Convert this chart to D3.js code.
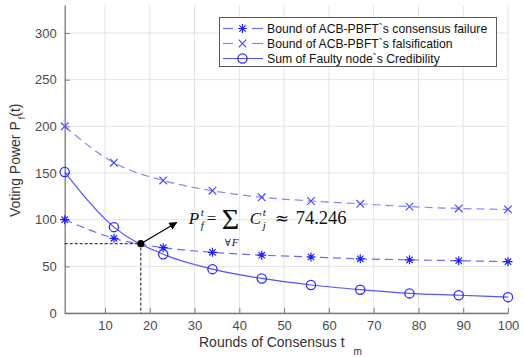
<!DOCTYPE html>
<html><head><meta charset="utf-8">
<script src="https://cdn.jsdelivr.net/npm/d3@7"></script>
<style>body{margin:0;background:#fff}svg{display:block}text{font-family:"Liberation Sans",Arial,sans-serif}</style>
</head><body><svg id="c" width="524" height="357"></svg>
<script>
const rounds = [1, 12, 23, 34, 45, 56, 67, 78, 89, 100];
const failureBound = [100, 80, 70, 65, 62, 60, 58, 57, 56, 55];
const falsifBound = [200, 161, 142, 131, 124, 120, 117, 114, 112, 111];
const faultyCred = [151, 92, 63, 47, 37, 30, 25, 21, 19, 17];
const xTicks = [10, 20, 30, 40, 50, 60, 70, 80, 90, 100];
const yTicks = [0, 50, 100, 150, 200, 250, 300];
const seriesNames = ["Bound of ACB-PBFT`s consensus failure", "Bound of ACB-PBFT`s falsification", "Sum of Faulty node`s Credibility"];
const markPoint = [18, 74.246];
const arrowEnd = [26, 97];

const svg = d3.select("#c");
const x = d3.scaleLinear().domain([1, 100]).range([64.7, 508]);
const y = d3.scaleLinear().domain([0, 330]).range([313, 5]);

// grid
const g = svg.append("g");
g.selectAll(".vg").data(xTicks).join("line").attr("x1", d => x(d)).attr("x2", d => x(d))
  .attr("y1", y(330)).attr("y2", y(0)).attr("stroke", "#e3e3e3").attr("stroke-width", 1);
g.selectAll(".hg").data(yTicks).join("line").attr("x1", x(1)).attr("x2", x(100))
  .attr("y1", d => y(d)).attr("y2", d => y(d)).attr("stroke", "#e3e3e3").attr("stroke-width", 1);

// axes
const ax = svg.append("g").attr("transform", `translate(0,${y(0)})`)
  .call(d3.axisBottom(x).tickValues(xTicks).tickSizeInner(-5).tickSizeOuter(0).tickPadding(8));
const ay = svg.append("g").attr("transform", `translate(${x(1)},0)`)
  .call(d3.axisLeft(y).tickValues(yTicks).tickSizeInner(-5).tickSizeOuter(0).tickPadding(8));
[ax, ay].forEach(a => {
  a.select(".domain").attr("stroke", "#7a7a7a").attr("stroke-width", 1.3);
  a.selectAll(".tick line").attr("stroke", "#7a7a7a");
  a.selectAll(".tick text").attr("fill", "#4a4a4a").style("font-size", "13px").style("font-family", "Liberation Sans, Arial, sans-serif");
});

// series
const data = (vals) => rounds.map((r, i) => [r, vals[i]]);
const line = d3.line().x(d => x(d[0])).y(d => y(d[1])).curve(d3.curveMonotoneX);

const series = [
  {vals: failureBound, line: "#6b6bff", mark: "#1f1fff", dash: "8,5", sym: "ast"},
  {vals: falsifBound, line: "#8585ff", mark: "#4b4bff", dash: "8,5", sym: "x"},
  {vals: faultyCred, line: "#5252ff", mark: "#2d2dff", dash: null, sym: "o"}
];

function symPath(t, s) {
  if (t === "ast") { const a = s * 0.707; return `M0,${-s}V${s}M${-s},0H${s}M${-a},${-a}L${a},${a}M${-a},${a}L${a},${-a}`; }
  if (t === "x") return `M${-s},${-s}L${s},${s}M${-s},${s}L${s},${-s}`;
  return null;
}
function drawMarker(sel, t, color, cx, cy) {
  if (t === "o") sel.append("circle").attr("cx", cx).attr("cy", cy).attr("r", 4.6).attr("fill", "none").attr("stroke", color).attr("stroke-width", 1.3);
  else sel.append("path").attr("d", symPath(t, t === "ast" ? 4.5 : 3.8)).attr("transform", `translate(${cx},${cy})`).attr("fill", "none").attr("stroke", color).attr("stroke-width", 1.2);
}

series.forEach(s => {
  svg.append("path").datum(data(s.vals)).attr("d", line).attr("fill", "none").attr("stroke", s.line)
    .attr("stroke-width", 1.2).attr("stroke-dasharray", s.dash);
  const mg = svg.append("g");
  data(s.vals).forEach(d => drawMarker(mg, s.sym, s.mark, x(d[0]), y(d[1])));
});

// annotation
const px = x(markPoint[0]), py = y(markPoint[1]);
svg.append("path").attr("d", `M${x(1)},${py}H${px}V${y(0)}`).attr("fill", "none").attr("stroke", "#111").attr("stroke-width", 1).attr("stroke-dasharray", "3,2");
svg.append("defs").append("marker").attr("id", "ah").attr("viewBox", "0 0 10 10").attr("refX", 9).attr("refY", 5)
  .attr("markerWidth", 10).attr("markerHeight", 8).attr("markerUnits", "userSpaceOnUse").attr("orient", "auto")
  .append("path").attr("d", "M0,0L10,5L0,10Z").attr("fill", "#000");
svg.append("line").attr("x1", px).attr("y1", py).attr("x2", x(arrowEnd[0])).attr("y2", y(arrowEnd[1]))
  .attr("stroke", "#000").attr("stroke-width", 1.2).attr("marker-end", "url(#ah)");
svg.append("circle").attr("cx", px).attr("cy", py).attr("r", 3.6).attr("fill", "#000");

// formula
const fx = x(arrowEnd[0]) + 12, fb = py - 20;
const ff = "Liberation Serif, Times New Roman, serif";
const F = svg.append("g").attr("fill", "#111");
function T(txt, dx, dy, size, italic, fam) {
  return F.append("text").attr("x", fx + dx).attr("y", fb + dy).text(txt).style("font-family", fam || ff)
   .style("font-size", size + "px").style("font-style", italic ? "italic" : "normal");
}
T("P", 0, 0, 17, true);
T("t", 12, -8, 11, true);
T("f", 12, 5, 11, true);
T("=", 18, 0, 17, false);
T("\u03A3", 33, 5, 30, false);
T("\u2200", 36, 22, 10, false, "DejaVu Serif, serif");
T("F", 43, 22, 11, true);
T("C", 61, 0, 17, true);
T("t", 74, -8, 11, true);
T("j", 74, 5, 11, true);
T("\u2248", 86, 0, 17, false, "DejaVu Serif, serif");
T("74.246", 107, 0, 18.5, false);

// legend
const lg = svg.append("g");
lg.append("rect").attr("x", 219.5).attr("y", 17.5).attr("width", 277).attr("height", 49)
  .attr("fill", "#fff").attr("stroke", "#5a5a5a").attr("stroke-width", 1);
series.forEach((s, i) => {
  const ly = 28.5 + i * 15;
  if (s.dash) {
    lg.append("line").attr("x1", 223).attr("x2", 233).attr("y1", ly).attr("y2", ly).attr("stroke", s.line).attr("stroke-width", 1.2);
    lg.append("line").attr("x1", 252).attr("x2", 263).attr("y1", ly).attr("y2", ly).attr("stroke", s.line).attr("stroke-width", 1.2);
  } else {
    lg.append("line").attr("x1", 223).attr("x2", 263).attr("y1", ly).attr("y2", ly).attr("stroke", s.line).attr("stroke-width", 1.2);
  }
  drawMarker(lg, s.sym, s.mark, 242.5, ly);
  lg.append("text").attr("x", 267).attr("y", ly + 4).text(seriesNames[i]).attr("fill", "#111").style("font-size", "12.2px");
});

// axis labels
const xl = svg.append("text").attr("x", 199).attr("y", 347).attr("fill", "#333").style("font-size", "14px");
xl.append("tspan").text("Rounds of Consensus  t");
xl.append("tspan").attr("dy", 8).attr("dx", 9).style("font-size", "10px").text("m");
const yl = svg.append("text").attr("transform", "translate(20,217) rotate(-90)").attr("fill", "#333").style("font-size", "14px");
yl.append("tspan").text("Voting Power  P");
yl.append("tspan").attr("dy", 5).attr("dx", 2).style("font-size", "9px").text("f");
yl.append("tspan").attr("dy", -5).text("(t)");
</script></body></html>
